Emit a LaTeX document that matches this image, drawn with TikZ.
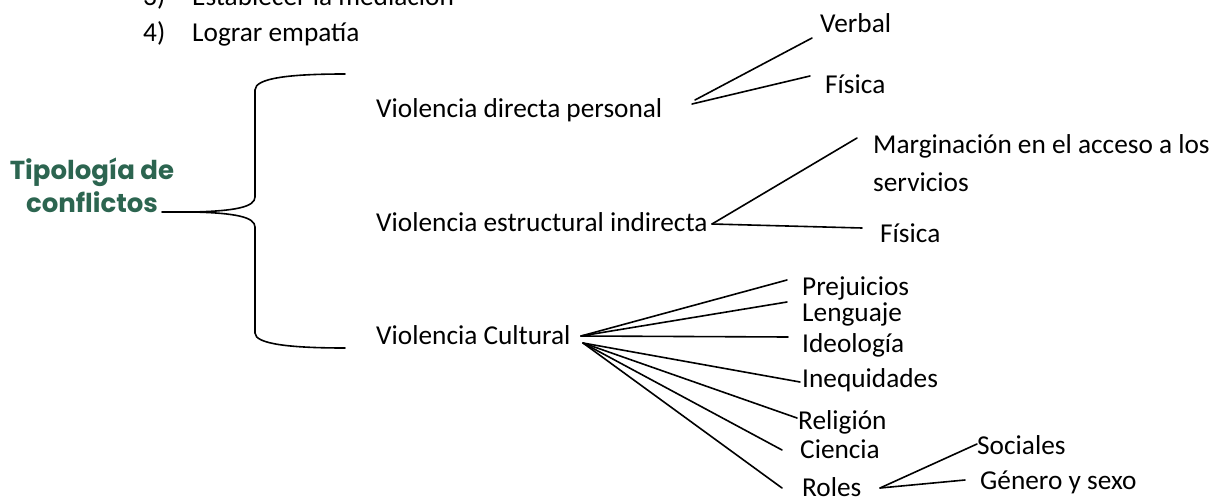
\documentclass[tikz,border=0pt]{standalone}
\usepackage{fontspec}
\setmainfont{Carlito}
\newfontfamily\titlefont{Poppins}
\definecolor{titlegreen}{RGB}{44,101,80}
\tikzset{
  txt/.style={anchor=mid west, inner sep=0pt, font=\fontsize{27.3}{30}\selectfont},
  ttl/.style={align=center, inner sep=0pt, text=titlegreen, font=\titlefont\bfseries\fontsize{26}{33}\selectfont},
  ln/.style={line width=1.6pt, line cap=round},
}
\begin{document}
\begin{tikzpicture}[x=1pt,y=-1pt]
\useasboundingbox (0,0) rectangle (1217,500);
% list at top
\node[txt] (n3) at (143,3) {3)};
\node[txt] (l3) at (192,3) {Establecer la mediación};
\node[txt] (n4) at (143,39) {4)};
\node[txt] (l4) at (192,39) {Lograr empatía};
% title
\node[ttl] (title) at (92,185) {Tipología de\\conflictos};
% brace
\coordinate (b0) at (162,212);
\coordinate (bm) at (193,212);
\coordinate (btop) at (345,74);
\coordinate (bbot) at (345,348);
\draw[ln] (b0) -- (bm)
  .. controls (235,211) and (255,207) .. (255,197) -- (255,90)
  .. controls (255,78) and (290,74) .. (btop);
\draw[ln] (bm)
  .. controls (235,213) and (255,217) .. (255,227) -- (255,333)
  .. controls (255,344) and (290,348) .. (bbot);
% main branches
\node[txt] (vd) at (376,115) {Violencia directa personal};
\node[txt] (ve) at (376,229) {Violencia estructural indirecta};
\node[txt] (vc) at (376,342) {Violencia Cultural};
% direct
\node[txt] (verbal) at (820,30) {Verbal};
\node[txt] (fis1) at (825,91) {Física};
\coordinate (d0a) at (695,100);
\coordinate (d0b) at (692,104);
\draw[ln] (d0a) -- (812,38);
\draw[ln] (d0b) -- (810,76);
% estructural
\node[txt] (marg) at (873,151) {Marginación en el acceso a los};
\node[txt] (serv) at (873,189) {servicios};
\node[txt] (fis2) at (880,240) {Física};
\coordinate (e0) at (712,224);
\draw[ln] (e0) -- (857,138);
\draw[ln] (e0) -- (862,228);
% cultural
\node[txt] (prej) at (802,293) {Prejuicios};
\node[txt] (leng) at (802,319) {Lenguaje};
\node[txt] (ideo) at (802,350) {Ideología};
\node[txt] (ineq) at (802,385) {Inequidades};
\node[txt] (reli) at (798,427) {Religión};
\node[txt] (cien) at (800,456) {Ciencia};
\node[txt] (roles) at (802,494) {Roles};
\coordinate (c0) at (581,336);
\coordinate (c1) at (583,343);
\draw[ln] (c0) -- (787,280);
\draw[ln] (c0) -- (787,302);
\draw[ln] (c0) -- (788,337);
\draw[ln] (c1) -- (800,382);
\draw[ln] (c1) -- (797,418);
\draw[ln] (c1) -- (782,450);
\draw[ln] (c1) -- (782,488);
% roles
\node[txt] (soc) at (977,452) {Sociales};
\node[txt] (gen) at (980,487) {Género y sexo};
\coordinate (r0) at (880,488);
\draw[ln] (r0) -- (977,444);
\draw[ln] (r0) -- (965,480);
\end{tikzpicture}
\end{document}
